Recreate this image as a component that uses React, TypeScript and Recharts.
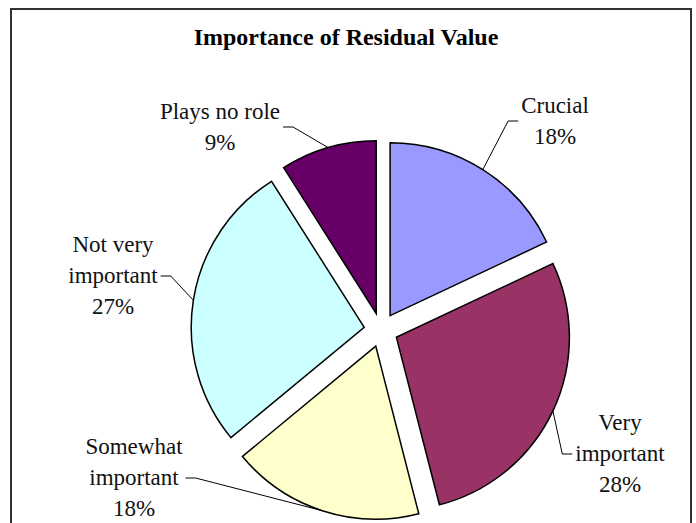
import { PieChart, Pie, Cell } from "recharts";

const categories = ["Crucial", "Very important", "Somewhat important", "Not very important", "Plays no role"];
const shares = [18, 28, 18, 27, 9];
const labelRows = [["Crucial"], ["Very", "important"], ["Somewhat", "important"], ["Not very", "important"], ["Plays no role"]];

const colors = ["#9999ff", "#993366", "#ffffcc", "#ccffff", "#660066"];

// label block centre, as an offset from the pie centre, and the side the leader enters
const labelSpots = [
  { dx: 174, dy: -209, side: "left" },
  { dx: 239, dy: 124, side: "left" },
  { dx: -247, dy: 148, side: "right" },
  { dx: -268, dy: -54, side: "right" },
  { dx: -161, dy: -203, side: "right" },
];

const W = 696;
const H = 523;
const CX = 381;
const CY = 330;
const R = 173;
const EXPLODE = 17;
const FONT = "'Liberation Serif', 'Times New Roman', serif";
const LABEL_SIZE = 23;
const LINE_GAP = 31;
const RAD = Math.PI / 180;

const rows = categories.map((name, i) => ({ name, value: shares[i] }));
const total = shares.reduce((a, b) => a + b, 0);

// mid angle of each slice, recharts convention (degrees, ccw from 3 o'clock)
const midAngles = shares.map((v, i) => {
  const before = shares.slice(0, i).reduce((a, b) => a + b, 0);
  return 90 - (360 * (before + v / 2)) / total;
});

let ctx: CanvasRenderingContext2D | null = null;
const textWidth = (s: string) => {
  if (!ctx) ctx = document.createElement("canvas").getContext("2d");
  if (!ctx) return s.length * LABEL_SIZE * 0.45;
  ctx.font = `${LABEL_SIZE}px "Liberation Serif"`;
  return ctx.measureText(s).width;
};

const makeLabel = (slot: number) => (p: any) => {
  if (p.index !== slot) return null;
  const spot = labelSpots[slot];
  const lines = [...labelRows[slot], `${shares[slot]}%`];
  const lx = CX + spot.dx;
  const ly = CY + spot.dy;
  const w = Math.max(...lines.map(textWidth));
  const ax = p.cx + p.outerRadius * Math.cos(p.midAngle * RAD);
  const ay = p.cy - p.outerRadius * Math.sin(p.midAngle * RAD);
  const ex = spot.side === "left" ? lx - w / 2 - 3 : lx + w / 2 + 3;
  const kx = spot.side === "left" ? ex - 10 : ex + 10;
  return (
    <g>
      <polyline points={`${ax},${ay} ${kx},${ly} ${ex},${ly}`} fill="none" stroke="#000" strokeWidth={1} />
      {lines.map((t, k) => (
        <text
          key={k}
          x={lx}
          y={ly + (k - (lines.length - 1) / 2) * LINE_GAP + 7}
          textAnchor="middle"
          fontFamily={FONT}
          fontSize={LABEL_SIZE}
          fill="#111"
        >
          {t}
        </text>
      ))}
    </g>
  );
};

export default function App() {
  return (
    <div style={{ position: "absolute", left: 0, top: 0, width: W, height: H, background: "#fff" }}>
      <div
        style={{
          position: "absolute",
          left: 10,
          top: 8,
          width: 682,
          height: H - 8,
          border: "2px solid #333",
          borderBottom: "none",
          boxSizing: "border-box",
        }}
      />
      <svg style={{ position: "absolute", left: 0, top: 0 }} width={W} height={60}>
        <text x={346} y={45} textAnchor="middle" fontFamily={FONT} fontSize={24} fontWeight="bold" fill="#000">
          Importance of Residual Value
        </text>
      </svg>
      <div style={{ position: "absolute", left: 0, top: 0 }}>
        <PieChart width={W} height={H} margin={{ top: 0, right: 0, bottom: 0, left: 0 }}>
          {midAngles.map((mid, slot) => (
            <Pie
              key={slot}
              data={rows}
              dataKey="value"
              nameKey="name"
              cx={CX + EXPLODE * Math.cos(mid * RAD)}
              cy={CY - EXPLODE * Math.sin(mid * RAD)}
              outerRadius={R}
              startAngle={90}
              endAngle={-270}
              isAnimationActive={false}
              label={makeLabel(slot)}
              labelLine={false}
            >
              {rows.map((r, i) => (
                <Cell
                  key={r.name}
                  fill={i === slot ? colors[i] : "transparent"}
                  stroke={i === slot ? "#000" : "none"}
                  strokeWidth={1.5}
                />
              ))}
            </Pie>
          ))}
        </PieChart>
      </div>
    </div>
  );
}
